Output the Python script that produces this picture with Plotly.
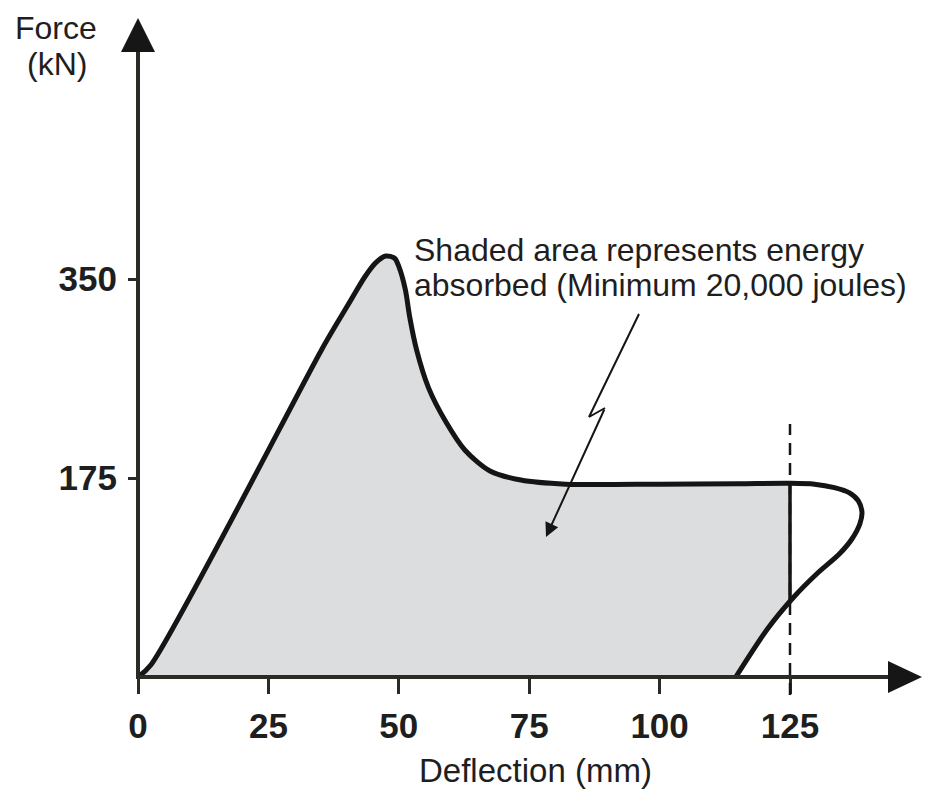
import numpy as np
import plotly.graph_objects as go

# ---------------- data ----------------
# loading curve: deflection (mm) vs force (kN), up to the 125 mm limit
load_x = [0, 2.5, 35.2, 38.0, 41.0, 43.5, 45.5, 47.5, 49.2, 50.0, 51.25,
          52.1, 53.4, 55.7, 59.1, 62.7, 67.4, 73.4, 82.0, 100.0, 115.0, 125.0]
load_y = [0, 10.8, 287.9, 310.0, 333.0, 352.0, 364.0, 370.3, 368.3, 361.1, 340.8,
          316.4, 287.9, 254.3, 223.8, 199.4, 181.4, 173.2, 169.6, 169.6, 170.0, 170.4]
# continuation beyond 125 mm and unloading back to zero force
loop_x = [129.7, 133.5, 136.4, 138.1, 138.8, 138.4, 136.9, 134.5, 130.1, 125.6, 120.6, 114.6]
loop_y = [169.6, 166.5, 161.9, 154.9, 144.8, 134.8, 121.6, 108.4, 90.6, 69.7, 41.8, 0]

x_ticks = [0, 25, 50, 75, 100, 125]
y_ticks = [175, 350]
limit_x = 125
x_title = "Deflection (mm)"
y_title = ["Force", "(kN)"]
note_lines = ["Shaded area represents energy", "absorbed (Minimum 20,000 joules)"]

# ---------------- layout geometry (screen pixels) ----------------
VW, VH = 941, 795          # browser window
OFF = 8                    # default page margin around the plot div
W, H = VW - OFF, VH - OFF  # figure size
OX, OY = 138, 677          # screen pixel position of the origin
SX, SY = 5.216, 1.137      # pixels per mm, pixels per kN


def X(px):
    return (px - OX) / SX


def Y(py):
    return (OY - py) / SY


AX = "#2b2b26"
INK = "#151515"
TXT = "#1e1e1e"
FILL = "#dcdddf"
FONT = "Liberation Sans"

# shaded region: loading curve, vertical at 125 mm, unloading line, baseline
ux = np.array(loop_x)
uy = np.array(loop_y)
k = int(np.argmax(ux < limit_x))          # first unloading point left of the limit
t = (ux[k - 1] - limit_x) / (ux[k - 1] - ux[k])
y_cross = uy[k - 1] + t * (uy[k] - uy[k - 1])
poly_x = list(load_x) + [limit_x] + list(ux[k:]) + [load_x[0]]
poly_y = list(load_y) + [y_cross] + list(uy[k:]) + [load_y[0]]

fig = go.Figure()
fig.add_trace(go.Scatter(x=poly_x, y=poly_y, fill="toself", fillcolor=FILL,
                         line=dict(width=0), mode="lines", hoverinfo="skip", showlegend=False))
fig.add_trace(go.Scatter(x=[limit_x, limit_x], y=[load_y[-1], y_cross], mode="lines",
                         line=dict(color=INK, width=3.5), showlegend=False))
fig.add_trace(go.Scatter(x=list(load_x) + list(loop_x), y=list(load_y) + list(loop_y), mode="lines",
                         line=dict(color=INK, width=5, shape="spline", smoothing=0.8),
                         showlegend=False))

# callout (lightning-style leader)
call_px = [(639, 314), (589, 417), (605, 408)]
tip_px = (546, 537)
fig.add_trace(go.Scatter(x=[X(p[0]) for p in call_px], y=[Y(p[1]) for p in call_px], mode="lines",
                         line=dict(color=INK, width=2), showlegend=False))

shapes = [
    # axes
    dict(type="line", xref="x", yref="y", x0=0, x1=0, y0=Y(679), y1=Y(50),
         line=dict(color=AX, width=4)),
    dict(type="line", xref="x", yref="y", x0=X(136), x1=X(890), y0=0, y1=0,
         line=dict(color=AX, width=4)),
    # arrow heads
    dict(type="path", xref="x", yref="y", xsizemode="pixel", ysizemode="pixel",
         xanchor=0, yanchor=Y(52), path="M-17,0 L17,0 L0,34 Z",
         fillcolor="#161616", line=dict(width=0)),
    dict(type="path", xref="x", yref="y", xsizemode="pixel", ysizemode="pixel",
         xanchor=X(888), yanchor=0, path="M0,-16 L0,16 L34,0 Z",
         fillcolor="#161616", line=dict(width=0)),
    # dashed limit
    dict(type="line", xref="x", yref="y", x0=limit_x, x1=limit_x, y0=Y(695), y1=Y(424),
         line=dict(color=INK, width=2.5, dash="12px,8px")),
]

annotations = [
    dict(x=X(tip_px[0]), y=Y(tip_px[1]), ax=X(call_px[-1][0]), ay=Y(call_px[-1][1]),
         xref="x", yref="y", axref="x", ayref="y", text="", showarrow=True,
         arrowhead=2, arrowsize=1.4, arrowwidth=2, arrowcolor=INK),
    dict(x=X(412), y=Y(250), xref="x", yref="y", text=note_lines[0], showarrow=False,
         xanchor="left", yanchor="middle", font=dict(family=FONT, size=32, color=TXT)),
    dict(x=X(412), y=Y(285), xref="x", yref="y", text=note_lines[1], showarrow=False,
         xanchor="left", yanchor="middle", font=dict(family=FONT, size=32, color=TXT)),
    dict(x=X(535), y=Y(770), xref="x", yref="y", text=x_title, showarrow=False,
         xanchor="center", yanchor="middle", font=dict(family=FONT, size=33, color=TXT)),
    dict(x=X(56), y=Y(28), xref="x", yref="y", text=y_title[0], showarrow=False,
         xanchor="center", yanchor="middle", font=dict(family=FONT, size=32, color=TXT)),
    dict(x=X(57), y=Y(64), xref="x", yref="y", text=y_title[1], showarrow=False,
         xanchor="center", yanchor="middle", font=dict(family=FONT, size=32, color=TXT)),
]

tickfont = dict(family=FONT, size=35, color=TXT, weight="bold")
fig.update_layout(
    width=W, height=H, margin=dict(l=0, r=0, t=0, b=0, pad=0, autoexpand=False),
    paper_bgcolor="white", plot_bgcolor="white", showlegend=False,
    shapes=shapes, annotations=annotations,
    xaxis=dict(range=[X(OFF), X(VW)], anchor="free", position=(VH - OY) / H,
               showgrid=False, zeroline=False, showline=False,
               tickmode="array", tickvals=x_ticks, ticks="outside", ticklen=16, tickwidth=3,
               tickcolor=AX, tickfont=tickfont, ticklabelstandoff=2),
    yaxis=dict(range=[Y(VH), Y(OFF)], anchor="free", position=(OX - OFF) / W,
               showgrid=False, zeroline=False, showline=False,
               tickmode="array", tickvals=y_ticks, ticks="outside", ticklen=10, tickwidth=3,
               tickcolor=AX, tickfont=tickfont, ticklabelstandoff=4),
    yaxis2=dict(range=[Y(VH), Y(OFF)], overlaying="y", anchor="free", position=(OX - OFF) / W,
                showgrid=False, zeroline=False, showline=False, showticklabels=False,
                tickmode="array", tickvals=y_ticks, ticks="inside", ticklen=18, tickwidth=3,
                tickcolor=AX),
)

fig.write_html("out.html")
